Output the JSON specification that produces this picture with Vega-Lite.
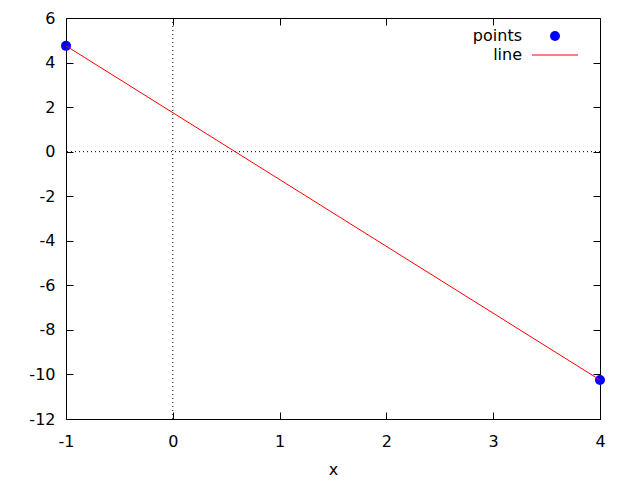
{
  "$schema": "https://vega.github.io/schema/vega-lite/v6.json",
  "width": 534,
  "height": 401,
  "autosize": {"type": "none"},
  "padding": {"left": 66, "top": 18, "right": 40, "bottom": 61},
  "background": "white",
  "config": {
    "view": {"stroke": "#000", "strokeWidth": 1},
    "font": "DejaVu Sans",
    "axis": {
      "labelFont": "DejaVu Sans",
      "labelFontSize": 16,
      "labelColor": "#000",
      "tickColor": "#000",
      "tickSize": -7,
      "domain": false,
      "grid": false,
      "titleFont": "DejaVu Sans",
      "titleFontSize": 16,
      "titleFontWeight": "normal",
      "titleColor": "#000",
      "labelExpr": "'' + datum.value"
    },
    "legend": {
      "title": null,
      "padding": 0,
      "labelFont": "DejaVu Sans",
      "labelFontSize": 16,
      "labelColor": "#000",
      "labelAlign": "right",
      "orient": "none"
    }
  },
  "datasets": {
    "pts": [
      {"x": -1, "y": 4.75},
      {"x": 4, "y": -10.25}
    ],
    "zero": [{"v": 0}]
  },
  "layer": [
    {
      "data": {"name": "zero"},
      "mark": {"type": "rule", "color": "#000", "strokeWidth": 1, "strokeDash": [1, 3]},
      "encoding": {
        "x": {"field": "v", "type": "quantitative", "axis": null, "scale": {"domain": [-1, 4], "nice": false, "zero": false}}
      }
    },
    {
      "data": {"name": "zero"},
      "mark": {"type": "rule", "color": "#000", "strokeWidth": 1, "strokeDash": [1, 3]},
      "encoding": {
        "y": {"field": "v", "type": "quantitative", "axis": null, "scale": {"domain": [-12, 6], "nice": false, "zero": false}}
      }
    },
    {
      "data": {"name": "pts"},
      "mark": {"type": "point", "shape": "circle", "filled": true, "size": 100, "opacity": 1},
      "encoding": {
        "x": {"field": "x", "type": "quantitative", "scale": {"domain": [-1, 4], "nice": false, "zero": false},
              "axis": {"orient": "bottom", "values": [-1, 0, 1, 2, 3, 4], "labelPadding": 21, "title": "x", "titlePadding": 12, "labelFlush": false}},
        "y": {"field": "y", "type": "quantitative", "scale": {"domain": [-12, 6], "nice": false, "zero": false},
              "axis": {"orient": "left", "values": [-12, -10, -8, -6, -4, -2, 0, 2, 4, 6], "labelPadding": 18, "title": null, "labelFlush": false}},
        "color": {
          "datum": "points",
          "scale": {"domain": ["points"], "range": ["#0000ff"]},
          "legend": {
            "orient": "none",
            "legendX": 481,
            "legendY": 10,
            "labelOffset": -41,
            "symbolType": "circle",
            "symbolSize": 100,
            "symbolOpacity": 1
          }
        }
      }
    },
    {
      "data": {"name": "pts"},
      "mark": {"type": "line", "strokeWidth": 1},
      "encoding": {
        "x": {"field": "x", "type": "quantitative", "scale": {"domain": [-1, 4], "nice": false, "zero": false},
              "axis": {"orient": "top", "values": [-1, 0, 1, 2, 3, 4], "labels": false, "title": null}},
        "y": {"field": "y", "type": "quantitative", "scale": {"domain": [-12, 6], "nice": false, "zero": false},
              "axis": {"orient": "right", "values": [-12, -10, -8, -6, -4, -2, 0, 2, 4, 6], "labels": false, "title": null}},
        "color": {
          "datum": "line",
          "scale": {"domain": ["line"], "range": ["#ff0000"]},
          "legend": {
            "orient": "none",
            "legendX": 466,
            "legendY": 14,
            "labelOffset": -56,
            "symbolType": "M-1,-0.0217H1V0.0217H-1Z",
            "symbolSize": 2116,
            "symbolStrokeWidth": 0,
            "symbolFillColor": "#ff0000",
            "symbolOpacity": 1
          }
        }
      }
    }
  ],
  "resolve": {
    "axis": {"x": "independent", "y": "independent"},
    "scale": {"color": "independent"},
    "legend": {"color": "independent"}
  }
}
